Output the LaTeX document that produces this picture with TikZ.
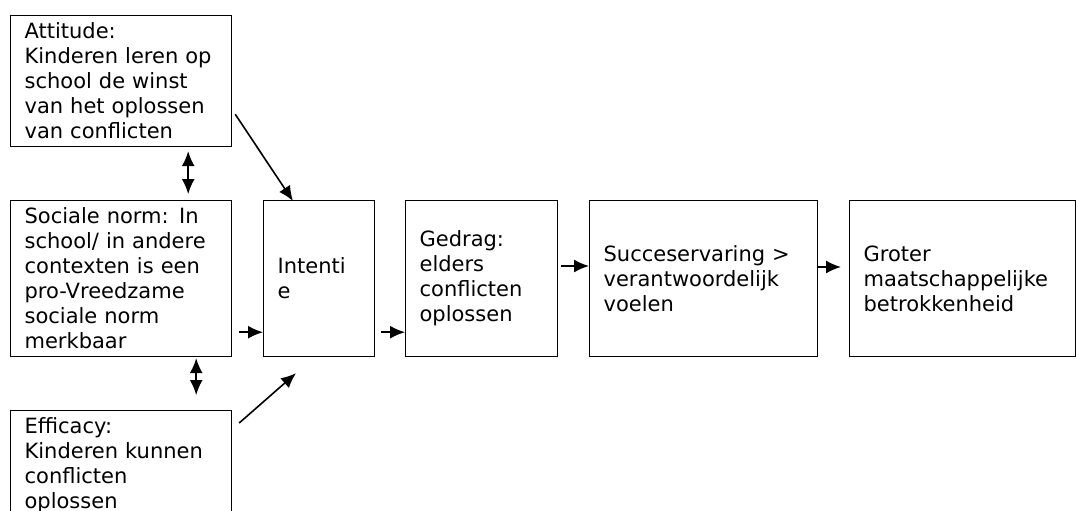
\documentclass[tikz,border=0pt]{standalone}
\usepackage{fontspec}
\setmainfont{DejaVu Sans}
\usetikzlibrary{arrows.meta}
\begin{document}
\begin{tikzpicture}[x=1pt,y=-1pt,>={Latex[length=15pt,width=13pt]},
  box/.style={draw,line width=1.2pt,anchor=north west,align=left,inner xsep=14pt,
    font=\fontsize{21pt}{25pt}\selectfont},
  link/.style={->,line width=1.6pt}]
  \useasboundingbox (0,0) rectangle (1076,511);
  \clip (0,0) rectangle (1076,511);

  % Left column
  \node[box,text width=193pt,minimum height=131pt] (attitude) at (10,15)
    {Attitude:\\Kinderen leren op\\school de winst\\van het oplossen\\van conflicten};
  \node[box,text width=193pt,minimum height=156pt] (norm) at (10,200)
    {Sociale norm: In\\school/ in andere\\contexten is een\\pro-Vreedzame\\sociale norm\\merkbaar};
  \node[box,text width=193pt,minimum height=110pt] (efficacy) at (10,410)
    {Efficacy:\\Kinderen kunnen\\conflicten\\oplossen};

  % Chain
  \node[box,text width=83pt,minimum height=156pt] (intentie) at (263,200) {Intenti\\e};
  \node[box,text width=124pt,minimum height=156pt] (gedrag) at (405,200)
    {Gedrag:\\elders\\conflicten\\oplossen};
  \node[box,text width=200pt,minimum height=156pt] (succes) at (589,200)
    {Succeservaring >\\verantwoordelijk\\voelen};
  \node[box,text width=198pt,minimum height=156pt] (groter) at (849,200)
    {Groter\\maatschappelijke\\betrokkenheid};

  % Arrows
  \draw[link,<->] ([xshift=-44pt,yshift=-4pt]attitude.south east) -- ([xshift=-44pt,yshift=6pt]norm.north east);
  \draw[link,<->] ([xshift=-36pt,yshift=-1pt]norm.south east) -- ([xshift=-36pt,yshift=15pt]efficacy.north east);
  \draw[link] ([xshift=3pt,yshift=33pt]attitude.south east) -- ([xshift=30pt,yshift=-1pt]intentie.north west);
  \draw[link] ([xshift=7pt,yshift=-13pt]efficacy.north east) -- ([xshift=33pt,yshift=-16pt]intentie.south west);
  \draw[link] ([xshift=7pt,yshift=25pt]norm.south east) -- ([yshift=25pt]intentie.south west);
  \draw[link] ([xshift=6pt,yshift=25pt]intentie.south east) -- ([yshift=25pt]gedrag.south west);
  \draw[link] ([xshift=3pt,yshift=-66pt]gedrag.north east) -- ([yshift=-66pt]succes.north west);
  \draw[link] ([yshift=-67pt]succes.north east) -- ([xshift=-8pt,yshift=-67pt]groter.north west);
\end{tikzpicture}
\end{document}
